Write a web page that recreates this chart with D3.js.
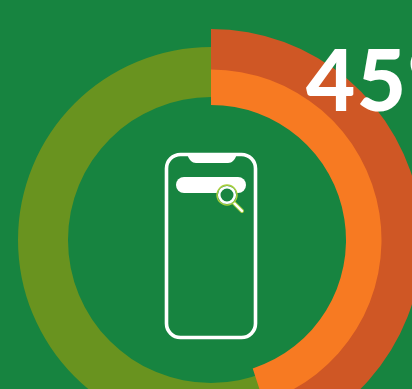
<!DOCTYPE html>
<html>
<head>
<meta charset="utf-8">
<style>
html,body{margin:0;padding:0;background:#178440;overflow:hidden}
svg{display:block}
</style>
<script src="https://cdn.jsdelivr.net/npm/d3@7/dist/d3.min.js"></script>
</head>
<body>
<svg id="chart" width="412" height="389"></svg>
<script>
// Share of mobile searches, shown as nested rings
const shareValues = [45, 55];
const centerLabel = "45%";
const baseRingValue = [100];

const colors = { bg: "#178440", base: "#69931f", inner: "#f77a22", outer: "#cf5725" };
const svg = d3.select("#chart");
svg.append("rect").attr("width", 412).attr("height", 389).attr("fill", colors.bg);

const cx = 211, cy = 240;
const g = svg.append("g").attr("transform", `translate(${cx},${cy})`);
const pie = d3.pie().sort(null);

// Full olive track
g.append("path")
  .attr("d", d3.arc().innerRadius(143).outerRadius(193)(pie(baseRingValue)[0]))
  .attr("fill", colors.base);

// Highlighted share: wide dark band with a lighter band over it
const slice = pie(shareValues)[0];
g.append("path")
  .attr("d", d3.arc().innerRadius(169).outerRadius(211)(slice))
  .attr("fill", colors.outer);
g.append("path")
  .attr("d", d3.arc().innerRadius(135).outerRadius(170.5)(slice))
  .attr("fill", colors.inner);

// Big percentage
svg.append("text")
  .attr("x", 306).attr("y", 111)
  .attr("font-family", "Lato, sans-serif")
  .attr("font-weight", 900)
  .attr("font-size", 85)
  .attr("letter-spacing", 1.5)
  .attr("fill", "#fff")
  .text(centerLabel);

// Phone icon
const phone = svg.append("g");
phone.append("rect")
  .attr("x", 166.5).attr("y", 154.5).attr("width", 89).attr("height", 183).attr("rx", 14)
  .attr("fill", "none").attr("stroke", "#fff").attr("stroke-width", 3.6);
phone.append("path")
  .attr("d", "M187,154H237C235,160 232,163 228,163H196C192,163 189,160 187,154Z")
  .attr("fill", "#fff");
phone.append("rect")
  .attr("x", 176).attr("y", 177).attr("width", 70).attr("height", 16).attr("rx", 8)
  .attr("fill", "#fff");

// Magnifier on the search bar
const lens = svg.append("g");
lens.append("line")
  .attr("x1", 233).attr("y1", 202).attr("x2", 242).attr("y2", 211)
  .attr("stroke", "#a9cf3c").attr("stroke-width", 4).attr("stroke-linecap", "round");
lens.append("line")
  .attr("x1", 233).attr("y1", 202).attr("x2", 242).attr("y2", 211)
  .attr("stroke", "#fff").attr("stroke-width", 2.4).attr("stroke-linecap", "round");
lens.append("circle")
  .attr("cx", 227).attr("cy", 195).attr("r", 10)
  .attr("fill", colors.bg).attr("stroke", "#a9cf3c").attr("stroke-width", 1.4);
lens.append("circle")
  .attr("cx", 227).attr("cy", 195).attr("r", 7.8)
  .attr("fill", "none").attr("stroke", "#fff").attr("stroke-width", 2.6);
</script>
</body>
</html>
